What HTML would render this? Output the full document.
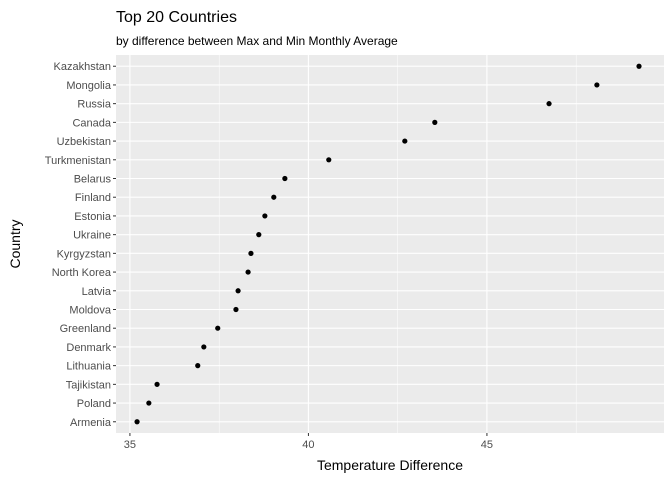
<!DOCTYPE html>
<html><head><meta charset="utf-8"><style>
body{margin:0;background:#fff;font-family:"Liberation Sans",sans-serif}
</style></head><body>
<svg id="chart" width="672" height="480" xmlns="http://www.w3.org/2000/svg" font-family="Liberation Sans, sans-serif">
<text x="116" y="22" font-size="16" fill="#000">Top 20 Countries</text>
<text x="116" y="45" font-size="12" fill="#000">by difference between Max and Min Monthly Average</text>
<rect x="116" y="55" width="548" height="378" fill="#ebebeb"/>
<g id="grid"></g><g id="points"></g><g id="axes"></g>
<text x="390" y="470" font-size="14" text-anchor="middle" fill="#000">Temperature Difference</text>
<text transform="translate(20,244) rotate(-90)" font-size="14" text-anchor="middle" fill="#000">Country</text>
</svg>
<script>
const countries=["Kazakhstan","Mongolia","Russia","Canada","Uzbekistan","Turkmenistan","Belarus","Finland","Estonia","Ukraine","Kyrgyzstan","North Korea","Latvia","Moldova","Greenland","Denmark","Lithuania","Tajikistan","Poland","Armenia"];
const values=[49.26,48.08,46.74,43.54,42.70,40.57,39.34,39.03,38.78,38.61,38.39,38.31,38.03,37.97,37.46,37.07,36.90,35.76,35.53,35.20];
const xTicks=[35,40,45];
const NS="http://www.w3.org/2000/svg";
const x0=116,x1=664,y0=55,y1=433;
const xMin=34.61,xMax=49.96;
const xs=v=>x0+(v-xMin)/(xMax-xMin)*(x1-x0);
const n=countries.length;
const step=(y1-y0)/(n+0.2);
const ys=i=>y0+step*0.6+i*step;
function mk(tag,attrs,parent){const e=document.createElementNS(NS,tag);for(const k in attrs)e.setAttribute(k,attrs[k]);parent.appendChild(e);return e;}
const grid=document.getElementById('grid'),pts=document.getElementById('points'),axes=document.getElementById('axes');
for(let i=0;i<xTicks.length-1;i++){const m=(xTicks[i]+xTicks[i+1])/2;const l=mk('line',{x1:xs(m),x2:xs(m),y1:y0,y2:y1,stroke:'#fff','stroke-width':0.5},grid);

}
{const m=xTicks[xTicks.length-1]+2.5;if(xs(m)<x1){const l=mk('line',{x1:xs(m),x2:xs(m),y1:y0,y2:y1,stroke:'#fff','stroke-width':0.5},grid);

}}
xTicks.forEach(t=>{const l=mk('line',{x1:xs(t),x2:xs(t),y1:y0,y2:y1,stroke:'#fff','stroke-width':1.1},grid);


const tk=mk('line',{x1:xs(t),x2:xs(t),y1:y1,y2:y1+3,stroke:'#333'},axes);


const tx=mk('text',{x:xs(t),y:y1+15,'font-size':11,'text-anchor':'middle',fill:'#4d4d4d'},axes);tx.textContent=t;

});
countries.forEach((c,i)=>{const y=ys(i);
const l=mk('line',{x1:x0,x2:x1,y1:y,y2:y,stroke:'#fff','stroke-width':1.1},grid);


const tk=mk('line',{x1:x0-3,x2:x0,y1:y,y2:y,stroke:'#333'},axes);


const tx=mk('text',{x:x0-5,y:y+4,'font-size':11,'text-anchor':'end',fill:'#4d4d4d'},axes);tx.textContent=c;


const p=mk('circle',{cx:xs(values[i]),cy:y,r:2.6,fill:'#000'},pts);

});
</script>
</body></html>
